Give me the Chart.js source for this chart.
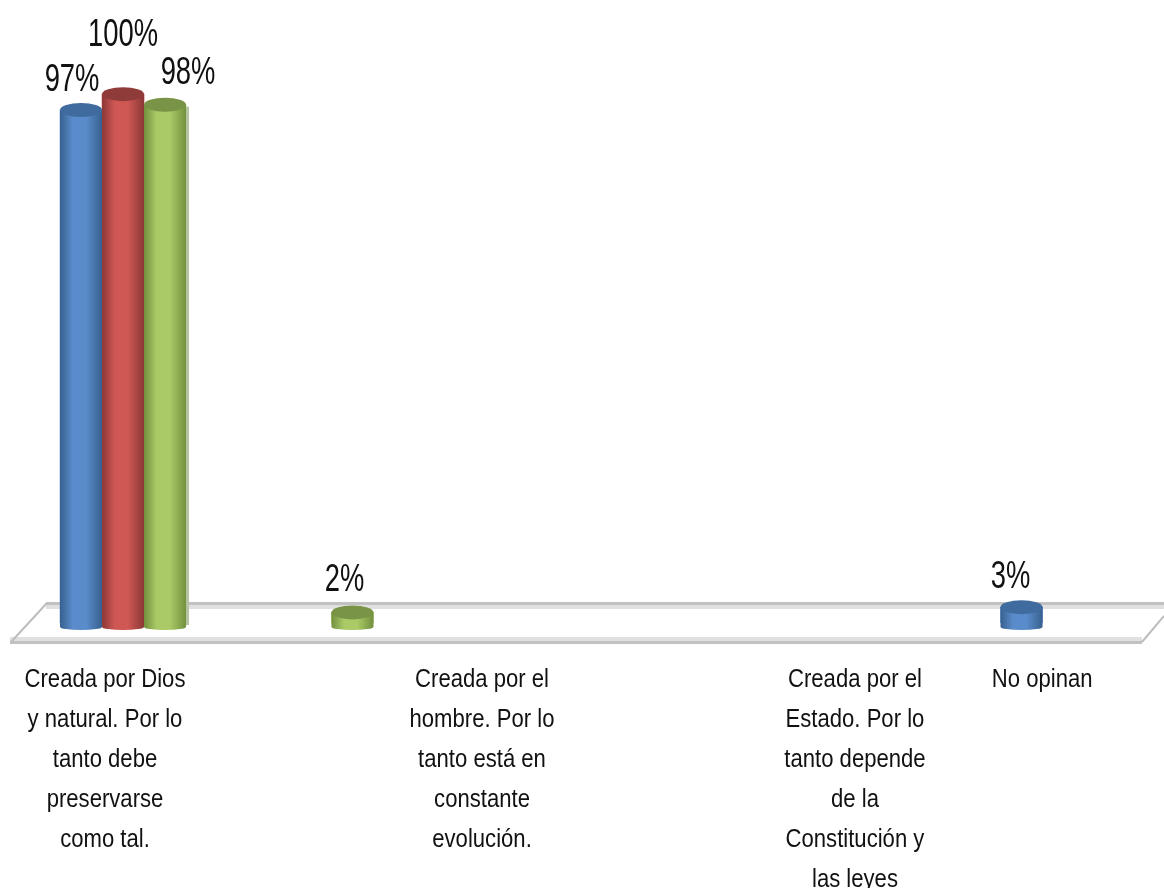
<!DOCTYPE html>
<html>
<head>
<meta charset="utf-8">
<style>html,body{margin:0;padding:0;background:#fff;overflow:hidden}#box{width:1164px;height:888px}canvas{display:block;filter:blur(0.45px)}</style>
<script src="https://cdn.jsdelivr.net/npm/chart.js@4/dist/chart.umd.js"></script>
</head>
<body>
<div id="box"><canvas id="c" width="1164" height="888"></canvas></div>
<script>
const categories = [
  ["Creada por Dios", "y natural. Por lo", "tanto debe", "preservarse", "como tal."],
  ["Creada por el", "hombre. Por lo", "tanto está en", "constante", "evolución."],
  ["Creada por el", "Estado. Por lo", "tanto depende", "de la", "Constitución y", "las leyes"],
  ["No opinan"]
];
const seriesBlue  = [97, null, null, 3];
const seriesRed   = [100, null, null, null];
const seriesGreen = [98, 2, null, null];

// Axis layout (fractions of the axis width): the source chart spaces its groups and labels unevenly.
const groupAnchors = [0.1057, 0.3028, 0.60, 0.8776];
const labelAnchors = [0.0902, 0.4141, 0.7345, 0.8953];
const labelNudge = {"0:0":[-9,-29],"0:3":[-11,-30],"1:0":[0,-59],"2:0":[23,-31],"2:1":[-8,-32]};
const tickSqueeze = 0.85;
const tones = [
  {edge:"#37608f", mid:"#5a8ccb", cap:"#3f6b9e"},
  {edge:"#8a3836", mid:"#cf5754", cap:"#8f3b39"},
  {edge:"#72903e", mid:"#a9ca66", cap:"#7a9447"}
];

class PlacedCategoryScale extends Chart.CategoryScale {
  getPixelForValue(value) { return this.getPixelForDecimal(groupAnchors[value]); }
  getPixelForTick(index) { return this.getPixelForDecimal(labelAnchors[index]); }
  _computeLabelArea() { return undefined; }
  _computeLabelItems(area) {
    const items = super._computeLabelItems(area);
    items.forEach(it => { it.options.translation[0] /= tickSqueeze; });
    return items;
  }
  drawLabels(area) {
    const ctx = this.ctx;
    ctx.save();
    ctx.scale(tickSqueeze, 1);
    super.drawLabels(area);
    ctx.restore();
  }
}
PlacedCategoryScale.id = "placedCategory";
PlacedCategoryScale.defaults = Chart.CategoryScale.defaults;
Chart.register(PlacedCategoryScale);

const floorPlugin = {
  id: "floor",
  beforeDatasetsDraw(chart) {
    const ctx = chart.ctx, b = chart.scales.y.getPixelForValue(0), R = chart.chartArea.right;
    ctx.save();
    ctx.fillStyle = "#e0e0e0";
    ctx.fillRect(46, b - 18, R - 46, 4);
    ctx.fillRect(10, b + 14, 1132, 4);
    ctx.fillStyle = "#c1c1c1";
    ctx.fillRect(46, b - 21, R - 46, 3);
    ctx.fillRect(10, b + 18, 1132, 3);
    ctx.strokeStyle = "#bdbdbd"; ctx.lineWidth = 2;
    ctx.beginPath();
    ctx.moveTo(47, b - 20); ctx.lineTo(11, b + 19);
    ctx.moveTo(1142, b + 19); ctx.lineTo(R, b - 7);
    ctx.stroke();
    ctx.restore();
  }
};

const cylinderPlugin = {
  id: "cylinder",
  afterDatasetsDraw(chart) {
    const ctx = chart.ctx, ry = 7, footDrop = 4, footRy = 3;
    chart.data.datasets.forEach((ds, di) => {
      const tone = tones[di];
      chart.getDatasetMeta(di).data.forEach((el, i) => {
        if (ds.data[i] == null) return;
        const rx = el.width / 2, L = el.x - rx, R = el.x + rx, y = el.y, base = el.base;
        const g = ctx.createLinearGradient(L, 0, R, 0);
        g.addColorStop(0, tone.edge); g.addColorStop(0.3, tone.mid);
        g.addColorStop(0.62, tone.mid); g.addColorStop(1, tone.edge);
        ctx.save();
        if (di === 2 && i === 0) {
          ctx.fillStyle = "#b6c3a0";
          ctx.fillRect(R, y + 2, 3, base - y);
        }
        ctx.fillStyle = g;
        ctx.beginPath();
        ctx.moveTo(L, y);
        ctx.lineTo(L, base + footDrop);
        ctx.ellipse(el.x, base + footDrop, rx, footRy, 0, Math.PI, 0, true);
        ctx.lineTo(R, y);
        ctx.closePath();
        ctx.fill();
        ctx.fillStyle = tone.cap;
        ctx.beginPath();
        ctx.ellipse(el.x, y, rx, ry, 0, 0, Math.PI * 2);
        ctx.fill();
        ctx.restore();
      });
    });
    chart.data.datasets.forEach((ds, di) => {
      chart.getDatasetMeta(di).data.forEach((el, i) => {
        if (ds.data[i] == null) return;
        const n = labelNudge[di + ":" + i] || [0, -30];
        ctx.save();
        ctx.translate(el.x + n[0], el.y + n[1]);
        ctx.scale(0.72, 1);
        ctx.font = '38px "Liberation Sans", sans-serif';
        ctx.fillStyle = "#111";
        ctx.textAlign = "center"; ctx.textBaseline = "middle";
        ctx.fillText(ds.data[i] + "%", 0, 0);
        ctx.restore();
      });
    });
  }
};

new Chart(document.getElementById("c"), {
  type: "bar",
  data: {
    labels: categories,
    datasets: [
      {label: "Serie 1", data: seriesBlue, backgroundColor: "#5a8ccb"},
      {label: "Serie 2", data: seriesRed, backgroundColor: "#cf5754"},
      {label: "Serie 3", data: seriesGreen, backgroundColor: "#a9ca66"}
    ]
  },
  options: {
    responsive: false,
    animation: false,
    layout: {padding: 0},
    datasets: {bar: {skipNull: true, barThickness: 42}},
    plugins: {legend: {display: false}, tooltip: {enabled: false}, title: {display: false}},
    scales: {
      x: {
        type: "placedCategory",
        grid: {display: false, drawTicks: false},
        border: {display: false},
        ticks: {
          autoSkip: false, maxRotation: 0, minRotation: 0, padding: 37, color: "#111",
          font: {family: '"Liberation Sans", sans-serif', size: 26, lineHeight: 1.538}
        },
        afterFit(scale) { scale.height = 265; scale.paddingLeft = 0; scale.paddingRight = 0; }
      },
      y: {display: false, min: 0, max: 117.8}
    }
  },
  plugins: [floorPlugin, cylinderPlugin]
});
</script>
</body>
</html>
